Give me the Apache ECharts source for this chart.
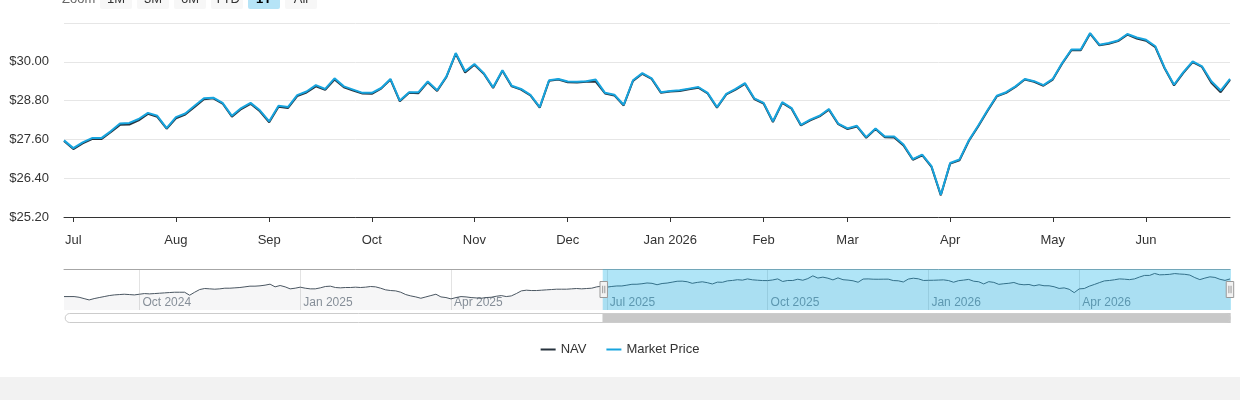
<!DOCTYPE html>
<html><head><meta charset="utf-8">
<script src="https://cdn.jsdelivr.net/npm/echarts@6/dist/echarts.min.js"></script>
<style>html,body{margin:0;padding:0;background:#f2f2f2;}#chart{width:1240px;height:377px;background:#ffffff;}</style>
</head><body><div id="chart"></div>
<script>
// ---- data (every second trading day) ----
const historyDates = [
 '2024-08-20','2024-08-22','2024-08-26','2024-08-28','2024-08-30',
 '2024-09-04','2024-09-06','2024-09-10','2024-09-12','2024-09-16','2024-09-18','2024-09-20','2024-09-24','2024-09-26','2024-09-30',
 '2024-10-02','2024-10-04','2024-10-08','2024-10-10','2024-10-14','2024-10-16','2024-10-18','2024-10-22','2024-10-24','2024-10-28','2024-10-30',
 '2024-11-01','2024-11-05','2024-11-07','2024-11-11','2024-11-13','2024-11-15','2024-11-19','2024-11-21','2024-11-25','2024-11-27',
 '2024-12-02','2024-12-04','2024-12-06','2024-12-10','2024-12-12','2024-12-16','2024-12-18','2024-12-20','2024-12-24','2024-12-27','2024-12-31',
 '2025-01-03','2025-01-07','2025-01-10','2025-01-14','2025-01-16','2025-01-21','2025-01-23','2025-01-27','2025-01-29','2025-01-31',
 '2025-02-04','2025-02-06','2025-02-10','2025-02-12','2025-02-14','2025-02-19','2025-02-21','2025-02-25','2025-02-27',
 '2025-03-03','2025-03-05','2025-03-07','2025-03-11','2025-03-13','2025-03-17','2025-03-19','2025-03-21','2025-03-25','2025-03-27','2025-03-31',
 '2025-04-02','2025-04-04','2025-04-08','2025-04-10','2025-04-14','2025-04-16','2025-04-21','2025-04-23','2025-04-25','2025-04-29',
 '2025-05-01','2025-05-05','2025-05-07','2025-05-09','2025-05-13','2025-05-15','2025-05-19','2025-05-21','2025-05-23','2025-05-28','2025-05-30',
 '2025-06-03','2025-06-05','2025-06-09','2025-06-11','2025-06-13','2025-06-17','2025-06-20','2025-06-24','2025-06-26'
];
const recentDates = [
 '2025-06-30',
 '2025-07-02','2025-07-07','2025-07-09','2025-07-11','2025-07-15','2025-07-17','2025-07-21','2025-07-23','2025-07-25','2025-07-29','2025-07-31',
 '2025-08-04','2025-08-06','2025-08-08','2025-08-12','2025-08-14','2025-08-18','2025-08-20','2025-08-22','2025-08-26','2025-08-28',
 '2025-09-02','2025-09-04','2025-09-08','2025-09-10','2025-09-12','2025-09-16','2025-09-18','2025-09-22','2025-09-24','2025-09-26','2025-09-30',
 '2025-10-02','2025-10-06','2025-10-08','2025-10-10','2025-10-14','2025-10-16','2025-10-20','2025-10-22','2025-10-24','2025-10-28','2025-10-30',
 '2025-11-03','2025-11-05','2025-11-07','2025-11-11','2025-11-13','2025-11-17','2025-11-19','2025-11-21','2025-11-25','2025-11-28',
 '2025-12-02','2025-12-04','2025-12-08','2025-12-10','2025-12-12','2025-12-16','2025-12-18','2025-12-22','2025-12-24','2025-12-29','2025-12-31',
 '2026-01-05','2026-01-07','2026-01-09','2026-01-13','2026-01-15','2026-01-20','2026-01-22','2026-01-26','2026-01-28','2026-01-30',
 '2026-02-03','2026-02-05','2026-02-09','2026-02-11','2026-02-13','2026-02-18','2026-02-20','2026-02-24','2026-02-26',
 '2026-03-02','2026-03-04','2026-03-06','2026-03-10','2026-03-12','2026-03-16','2026-03-18','2026-03-20','2026-03-24','2026-03-26','2026-03-30',
 '2026-04-01','2026-04-06','2026-04-08','2026-04-10','2026-04-14','2026-04-16','2026-04-20','2026-04-22','2026-04-24','2026-04-28','2026-04-30',
 '2026-05-04','2026-05-06','2026-05-08','2026-05-12','2026-05-14','2026-05-18','2026-05-20','2026-05-22','2026-05-27','2026-05-29',
 '2026-06-02','2026-06-04','2026-06-08','2026-06-10','2026-06-12','2026-06-16','2026-06-18','2026-06-23','2026-06-25','2026-06-29'
];
const navHistory = [
 24.85,24.85,24.85,24.67,24.32,23.97,24.32,24.59,24.85,25.11,
 25.28,25.37,25.46,25.37,25.28,25.46,25.63,25.55,25.63,25.72,
 25.81,25.90,25.98,25.98,25.98,25.20,25.98,26.68,26.95,26.86,
 26.77,26.86,27.03,27.03,27.12,27.21,27.38,27.56,27.56,27.65,
 27.82,28.08,27.38,27.73,27.38,26.86,27.03,27.30,27.03,26.86,
 26.86,27.12,27.47,27.56,27.21,27.12,27.21,27.21,27.30,27.21,
 27.30,27.47,27.38,27.03,26.60,26.42,26.33,25.98,25.37,25.02,
 24.76,24.41,24.76,25.11,25.46,24.76,24.59,24.24,24.59,24.85,
 24.76,24.59,24.50,24.41,24.59,24.67,24.93,25.11,24.85,25.02,
 25.63,26.33,26.51,26.42,26.42,26.51,26.60,26.68,26.77,26.77,
 26.77,26.86,26.95,26.86,26.95,27.03,27.38
];
const navRecent = [
 27.55,
 27.30,27.48,27.61,27.61,27.82,28.05,28.06,28.19,28.39,28.30,27.93,
 28.25,28.37,28.60,28.84,28.87,28.71,28.30,28.54,28.70,28.47,
 28.13,28.61,28.57,28.94,29.05,29.24,29.13,29.45,29.21,29.11,29.02,
 29.01,29.17,29.45,28.78,29.04,29.03,29.37,29.10,29.53,30.25,29.67,
 29.91,29.63,29.19,29.72,29.24,29.14,28.96,28.58,29.41,29.45,
 29.37,29.36,29.38,29.39,29.02,28.96,28.65,29.41,29.63,29.47,29.04,
 29.08,29.10,29.15,29.20,29.02,28.58,28.99,29.14,29.32,28.85,
 28.71,28.14,28.73,28.55,28.03,28.19,28.31,28.52,28.07,
 27.92,28.00,27.65,27.92,27.67,27.66,27.41,26.97,27.11,26.75,25.87,
 26.85,26.95,27.55,28.00,28.48,28.93,29.04,29.22,29.45,29.38,29.26,
 29.45,29.94,30.36,30.36,30.87,30.51,30.56,30.64,30.84,30.72,
 30.65,30.45,29.79,29.27,29.66,29.99,29.84,29.35,29.06,29.44
];
const marketRecent = [
 27.57,
 27.33,27.51,27.64,27.64,27.85,28.09,28.11,28.23,28.42,28.33,27.95,
 28.29,28.40,28.64,28.87,28.89,28.73,28.33,28.57,28.73,28.50,
 28.16,28.64,28.60,28.97,29.08,29.28,29.16,29.49,29.24,29.14,29.04,
 29.04,29.19,29.47,28.80,29.06,29.06,29.39,29.12,29.55,30.27,29.71,
 29.93,29.65,29.21,29.74,29.26,29.16,28.98,28.60,29.43,29.47,
 29.39,29.38,29.40,29.45,29.04,28.98,28.67,29.43,29.65,29.49,29.06,
 29.10,29.12,29.17,29.22,29.04,28.60,29.01,29.16,29.34,28.87,
 28.73,28.16,28.75,28.57,28.05,28.21,28.33,28.54,28.09,
 27.94,28.02,27.67,27.94,27.69,27.69,27.44,26.99,27.13,26.77,25.89,
 26.87,26.98,27.57,28.02,28.50,28.95,29.06,29.24,29.47,29.40,29.28,
 29.47,29.96,30.38,30.38,30.89,30.53,30.58,30.66,30.86,30.75,
 30.68,30.48,29.81,29.29,29.68,30.01,29.86,29.40,29.11,29.47
];
const yMin = 25.2, yMax = 31.2, yStep = 1.2;
const monthNames = ['Jan','Feb','Mar','Apr','May','Jun','Jul','Aug','Sep','Oct','Nov','Dec'];
const rangeButtons = ['1M','3M','6M','YTD','1Y','All'];
const selectedButton = '1Y';
const seriesNames = ['NAV','Market Price'];

// ---- build ----
const FONT = 'Liberation Sans, Arial, sans-serif';
const NAV_COLOR = '#26323d';
const MKT_COLOR = '#17a4de';
const allDates = historyDates.concat(recentDates);
const navAll = navHistory.concat(navRecent);
const offset = historyDates.length;
const marketData = marketRecent.map((v, i) => [offset + i, v]);

function isMonthStart(i) {
  if (i <= 0) return false;
  return allDates[i].slice(0, 7) !== allDates[i - 1].slice(0, 7);
}
function isQuarterStart(i) {
  if (!isMonthStart(i)) return false;
  const m = +allDates[i].slice(5, 7) - 1;
  return m % 3 === 0;
}

const btnGraphics = [];
btnGraphics.push({type:'text', x:62, y:-0.5, style:{text:'Zoom', fill:'#666666', font:'13px ' + FONT, verticalAlign:'middle', align:'left'}});
rangeButtons.forEach((b, i) => {
  const x0 = 100 + i * 37;
  const sel = b === selectedButton;
  btnGraphics.push({type:'rect', shape:{x:x0, y:-12, width:32, height:21, r:2}, style:{fill: sel ? '#b6e4f7' : '#f7f7f7'}});
  btnGraphics.push({type:'text', x:x0 + 16, y:-0.5, style:{text:b, fill: sel ? '#000000' : '#333333', font:(sel ? 'bold ' : '') + '13px ' + FONT, align:'center', verticalAlign:'middle'}});
});

const chart = echarts.init(document.getElementById('chart'), null, {renderer:'canvas'});
chart.setOption({
  animation: false,
  textStyle: {fontFamily: FONT},
  graphic: btnGraphics,
  grid: [
    {left:64, right:10, top:23, height:194},
    {left:64, right:10, top:269, height:41}
  ],
  legend: {
    data: seriesNames.map(n => ({name:n, icon:'rect'})),
    top: 338, left: 'center', itemWidth: 15, itemHeight: 2, itemGap: 20,
    textStyle: {fontSize: 13, color: '#333333', fontFamily: FONT}
  },
  xAxis: [
    {type:'category', gridIndex:0, data:allDates, boundaryGap:false,
     axisLine:{lineStyle:{color:'#333333', width:1}},
     axisTick:{interval:(i) => isMonthStart(i), length:5, lineStyle:{color:'#333333'}},
     axisLabel:{interval:(i) => isMonthStart(i), margin:17, color:'#333333', fontSize:13, fontFamily:FONT,
       formatter:(v) => { const m = +v.slice(5,7) - 1; return m === 0 ? monthNames[0] + ' ' + v.slice(0,4) : monthNames[m]; }},
     splitLine:{show:false}},
    {type:'category', gridIndex:1, data:allDates, boundaryGap:false,
     axisLine:{show:false}, axisTick:{show:false},
     axisLabel:{inside:true, interval:(i) => isQuarterStart(i), margin:1, color:'#8a939c', fontSize:12, fontFamily:FONT,
       align:'left', padding:[0,0,0,3],
       formatter:(v) => monthNames[+v.slice(5,7) - 1] + ' ' + v.slice(0,4)},
     splitLine:{show:true, interval:(i) => isQuarterStart(i), lineStyle:{color:'#e3e3e3', width:1}}},
    {type:'category', gridIndex:1, data:allDates, boundaryGap:false, position:'top',
     axisLine:{show:true, lineStyle:{color:'#a6a6a6', width:1}}, axisTick:{show:false}, axisLabel:{show:false}, splitLine:{show:false}}
  ],
  yAxis: [
    {type:'value', gridIndex:0, min:yMin, max:yMax, interval:yStep,
     axisLine:{show:false}, axisTick:{show:false},
     axisLabel:{margin:15, color:'#333333', fontSize:13, fontFamily:FONT,
       formatter:(v) => v > yMax - 0.01 ? '' : '$' + v.toFixed(2)},
     splitLine:{lineStyle:{color:'#e6e6e6', width:1}}},
    {type:'value', gridIndex:1, min:21.35, max:32.03, show:false, splitLine:{show:false}}
  ],
  dataZoom: [
    {type:'slider', xAxisIndex:0, left:64, right:10, top:269, height:41,
     startValue: offset, endValue: allDates.length - 1,
     showDataShadow:false, showDetail:false, brushSelect:false,
     backgroundColor:'rgba(0,0,0,0)', borderColor:'rgba(0,0,0,0)',
     fillerColor:'rgba(0,170,230,0.31)',
     handleIcon:'path://M0,0 L7,0 L7,15 L0,15 Z M2.5,4 L2.5,11 M4.5,4 L4.5,11',
     handleSize:16,
     handleStyle:{color:'#f2f2f2', borderColor:'#999999', borderWidth:1},
     moveHandleSize:0,
     emphasis:{handleStyle:{color:'#f2f2f2', borderColor:'#999999', borderWidth:1}}},
    {type:'slider', xAxisIndex:0, left:64, right:10, top:313, height:10,
     startValue: offset, endValue: allDates.length - 1,
     showDataShadow:false, showDetail:false, brushSelect:false,
     backgroundColor:'#ffffff', borderColor:'#cccccc', borderRadius:5,
     fillerColor:'#c8c8c8',
     handleSize:0, handleStyle:{opacity:0}, moveHandleSize:0,
     emphasis:{handleStyle:{opacity:0}}}
  ],
  series: [
    {name:'NAV', type:'line', xAxisIndex:0, yAxisIndex:0, data:navAll, color:NAV_COLOR,
     symbol:'none', lineStyle:{width:2, color:NAV_COLOR}, z:2},
    {name:'Market Price', type:'line', xAxisIndex:0, yAxisIndex:0, data:marketData, color:MKT_COLOR,
     symbol:'none', lineStyle:{width:2, color:MKT_COLOR}, z:3},
    {name:'navigator', type:'line', xAxisIndex:1, yAxisIndex:1, data:navAll, color:'#4a5661',
     symbol:'none', silent:true, lineStyle:{width:1, color:'#4a5661'},
     areaStyle:{color:'rgba(38,50,61,0.06)'}, z:1}
  ]
});
</script>
</body></html>
